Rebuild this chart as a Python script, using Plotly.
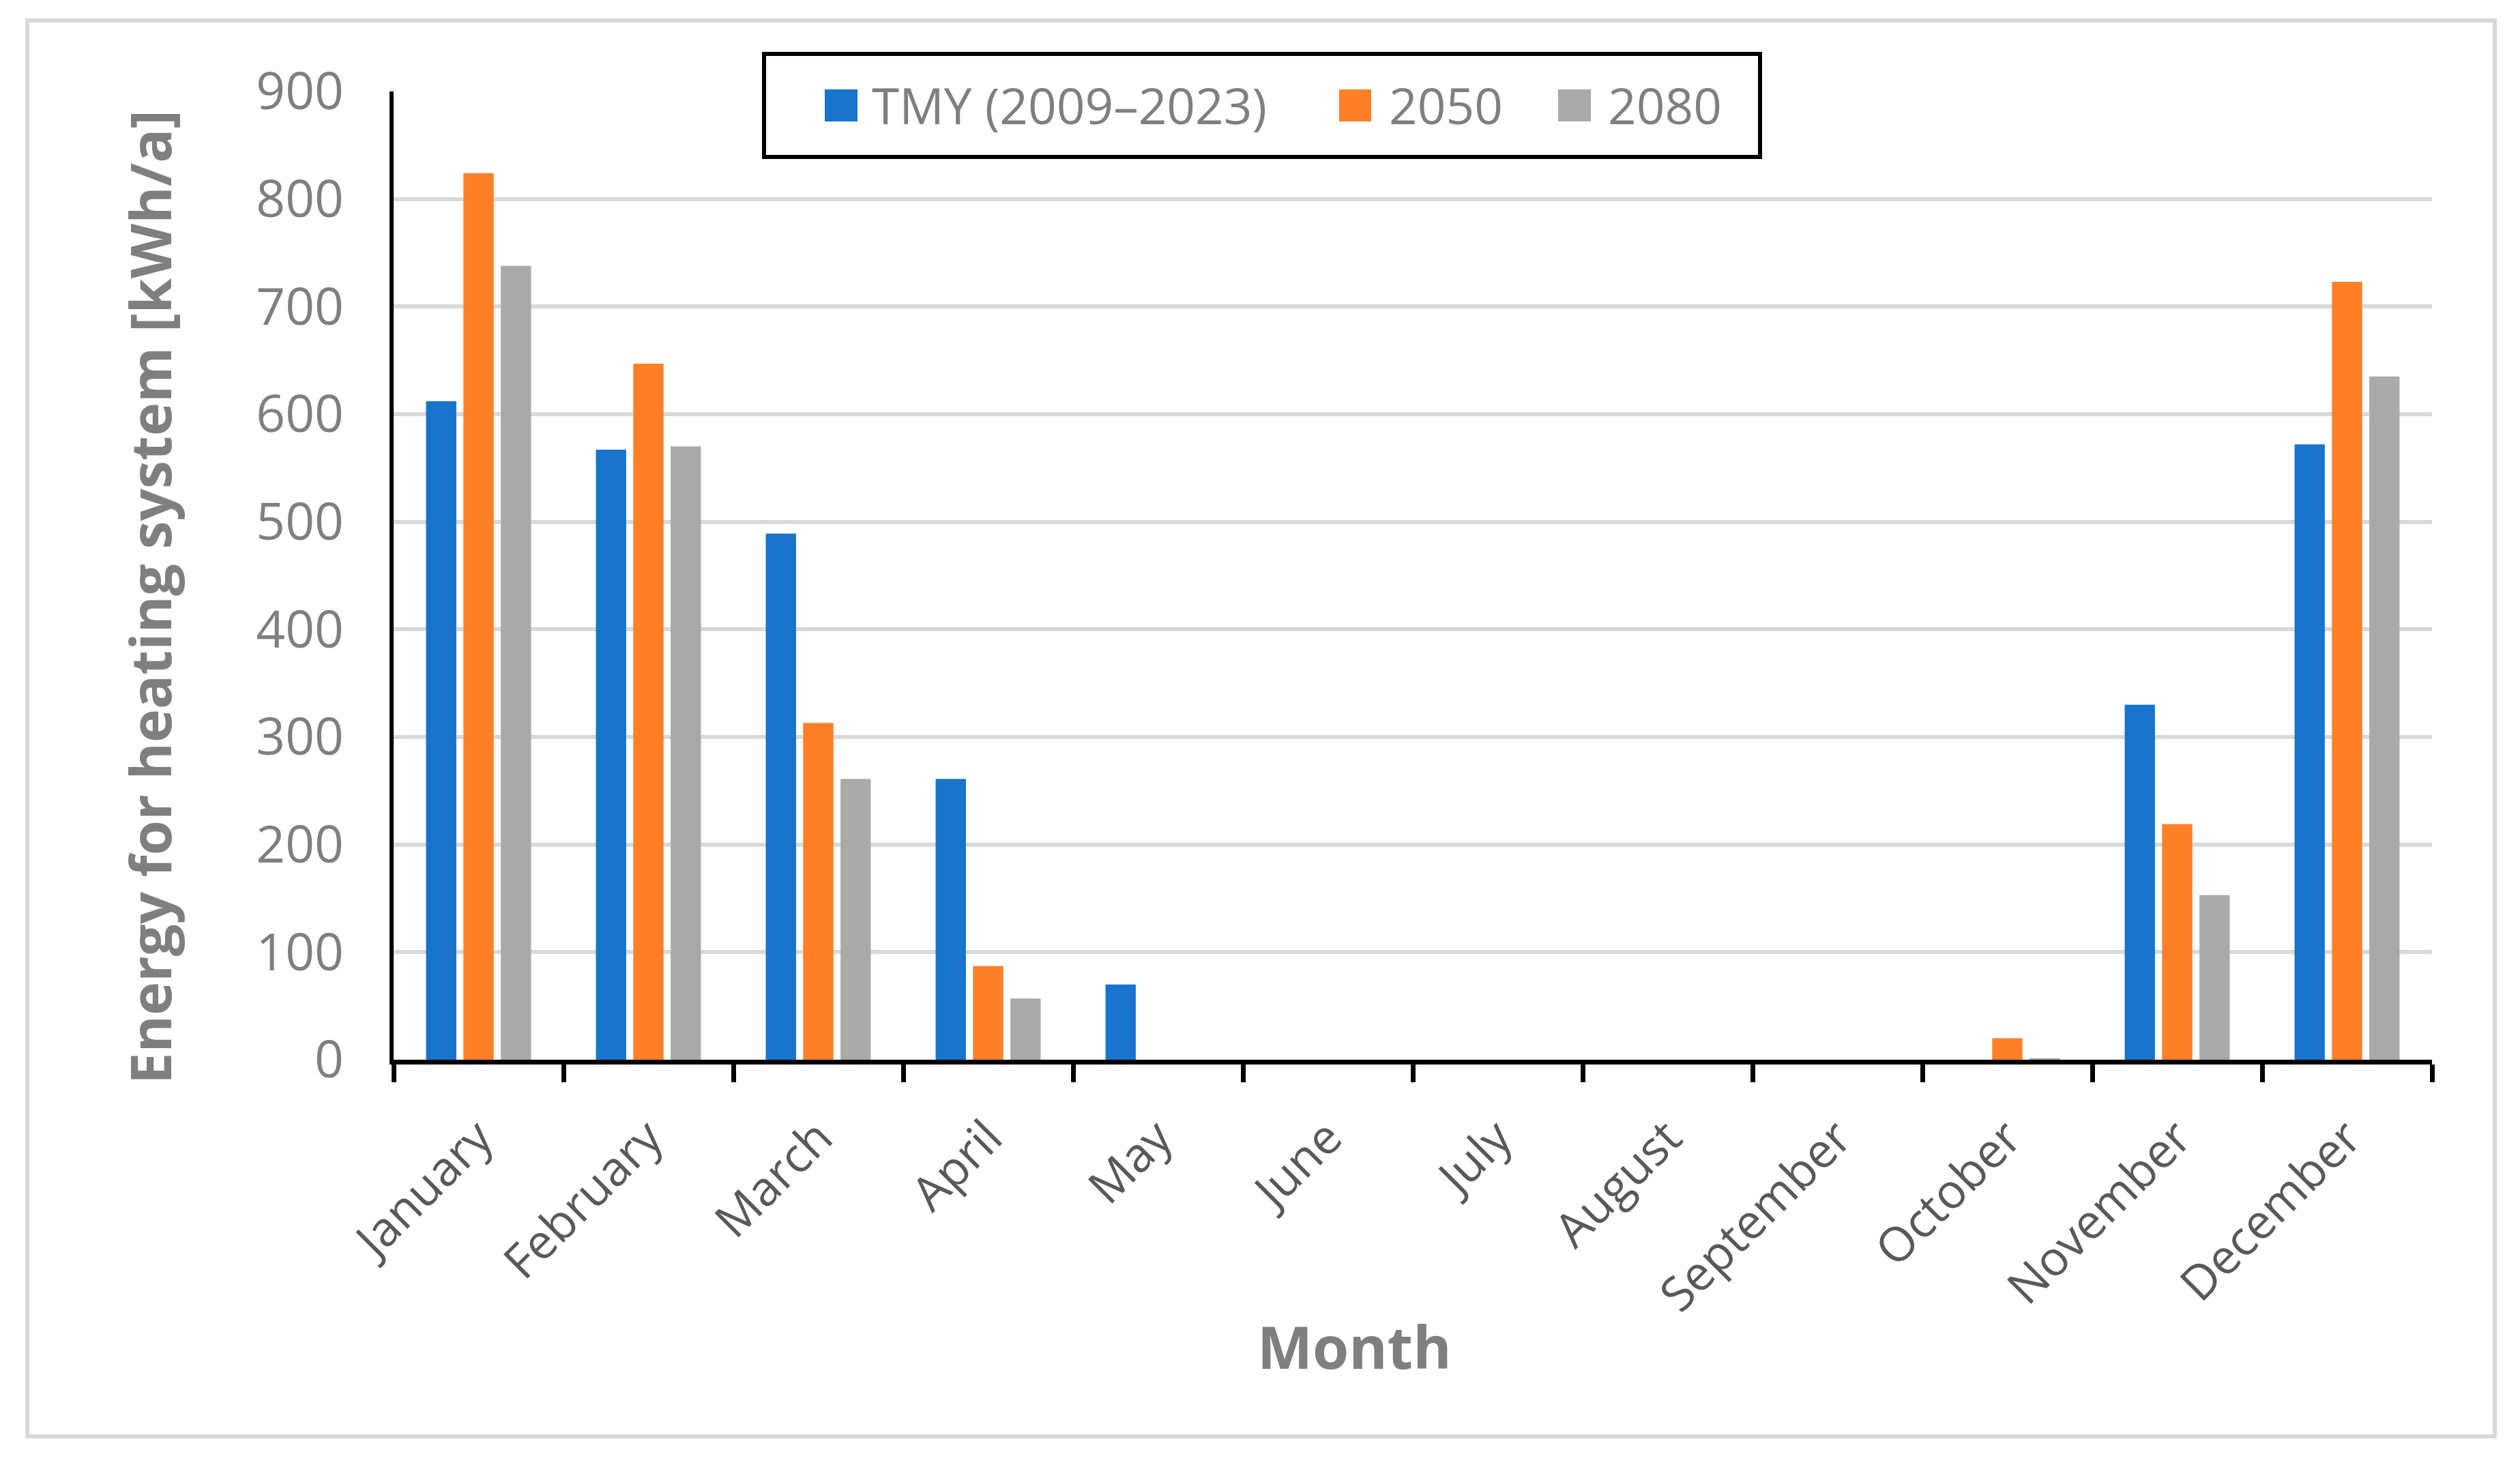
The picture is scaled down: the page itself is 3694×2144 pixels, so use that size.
import plotly.graph_objects as go

months = ["January", "February", "March", "April", "May", "June", "July",
          "August", "September", "October", "November", "December"]
tmy = [612, 567, 489, 261, 70, 0, 0, 0, 0, 0, 330, 572]
s2050 = [824, 647, 313, 87, 0, 0, 0, 0, 0, 20, 219, 723]
s2080 = [738, 570, 261, 57, 0, 0, 0, 0, 0, 1.5, 153, 635]
series_names = ["TMY (2009\u20132023)", "2050", "2080"]
colors = ["#1874CD", "#FF7F27", "#A9A9A9"]
y_ticks = [0, 100, 200, 300, 400, 500, 600, 700, 800, 900]

W, H = 3694, 2144
L, R, T, B = 577, 3565, 134, 1553  # plot area pixel box


def px(x):
    return (x - L) / (R - L)


def py(y):
    return (B - y) / (B - T)


fig = go.Figure()
for name, vals, col in zip(series_names, [tmy, s2050, s2080], colors):
    fig.add_trace(go.Bar(x=months, y=vals, name=name, marker_color=col,
                         marker_line_width=0, showlegend=False))

grey = "#7F7F7F"
fig.update_layout(
    width=W, height=H,
    margin=dict(l=L, r=W - R, t=T, b=H - B, pad=0),
    paper_bgcolor="white", plot_bgcolor="white",
    barmode="group", bargap=0.34, bargroupgap=0.19,
    font=dict(family="Open Sans", color=grey),
    xaxis=dict(
        showline=True, linecolor="black", linewidth=7,
        ticks="outside", tickson="boundaries", ticklen=26, tickwidth=7, tickcolor="black",
        tickangle=-45, tickfont=dict(family="Open Sans", size=70, color="#595959"),
        showgrid=False, zeroline=False, ticklabelstandoff=38,
    ),
    yaxis=dict(
        range=[0, 900], tickvals=y_ticks, ticktext=[str(v) for v in y_ticks],
        showline=True, linecolor="black", linewidth=6, ticks="",
        showgrid=True, gridcolor="#D9D9D9", gridwidth=6, zeroline=False,
        tickfont=dict(family="Open Sans", size=75, color=grey),
        ticklabelstandoff=52,
    ),
)

shapes = []
# outer border
shapes.append(dict(type="rect", xref="paper", yref="paper",
                   x0=px(40), x1=px(3657), y0=py(30), y1=py(2105),
                   line=dict(color="#D9D9D9", width=6), fillcolor="rgba(0,0,0,0)", layer="below"))
# legend box
shapes.append(dict(type="rect", xref="paper", yref="paper",
                   x0=px(1120), x1=px(2580), y0=py(79), y1=py(230),
                   line=dict(color="black", width=6), fillcolor="white", layer="above"))
leg_sq = [(1209, 1257), (1963, 2010), (2284, 2332)]
leg_tx = [1276, 2034, 2355]
annotations = []
for (a, b), tx, col, name in zip(leg_sq, leg_tx, colors, series_names):
    shapes.append(dict(type="rect", xref="paper", yref="paper",
                       x0=px(a), x1=px(b), y0=py(131), y1=py(178),
                       line=dict(width=0), fillcolor=col, layer="above"))
    annotations.append(dict(text=name, xref="paper", yref="paper", x=px(tx), y=py(154),
                            xanchor="left", yanchor="middle", showarrow=False,
                            font=dict(family="Open Sans", size=73, color=grey)))

annotations.append(dict(text="Energy for heating system [kWh/a]", xref="paper", yref="paper",
                        x=px(219), y=py(875), xanchor="center", yanchor="middle",
                        textangle=-90, showarrow=False,
                        font=dict(family="Open Sans", size=83, color=grey, weight="bold")))
annotations.append(dict(text="Month", xref="paper", yref="paper",
                        x=px(1985), y=py(1972), xanchor="center", yanchor="middle",
                        showarrow=False,
                        font=dict(family="Open Sans", size=86, color=grey, weight="bold")))

fig.update_layout(shapes=shapes, annotations=annotations)

fig.write_html("out.html", config={"displayModeBar": False},
               post_script="document.body.style.margin='0';document.body.style.overflow='hidden';")
